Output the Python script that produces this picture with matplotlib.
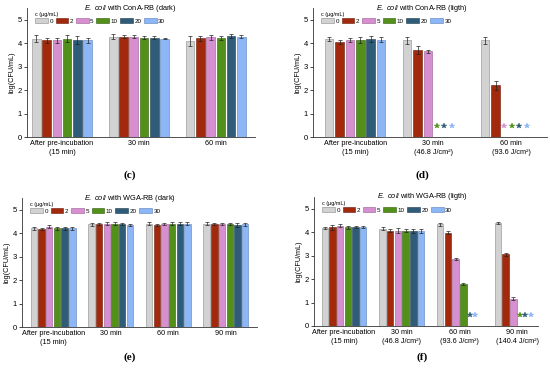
import numpy as np
import matplotlib
matplotlib.use("Agg")
import matplotlib.pyplot as plt
from matplotlib.patches import Patch

plt.rcParams['font.family'] = ['Liberation Sans', 'DejaVu Sans']
plt.rcParams['mathtext.fontset'] = 'custom'
plt.rcParams['mathtext.it'] = 'Liberation Sans:italic'
plt.rcParams['mathtext.rm'] = 'Liberation Sans'

concs = ["0", "2", "5", "10", "20", "30"]
colors = ["#d2d2d2", "#a3290c", "#d690cf", "#52901a", "#2f5c78", "#8cb6f6"]
edges = ["#8a8a8a", "#6a1a08", "#9a5a95", "#2f5a0c", "#1d3a4e", "#5a7fb8"]

# (c) ConA-RB dark
c_groups = ["After pre-incubation\n(15 min)", "30 min", "60 min"]
c_vals = [[4.18, 4.12, 4.12, 4.18, 4.15, 4.12],
          [4.28, 4.28, 4.28, 4.24, 4.24, 4.19],
          [4.10, 4.20, 4.25, 4.22, 4.30, 4.28]]
c_errs = [[0.15, 0.10, 0.10, 0.15, 0.17, 0.10],
          [0.12, 0.08, 0.05, 0.05, 0.05, 0.03],
          [0.22, 0.12, 0.12, 0.10, 0.10, 0.08]]

# (d) ConA-RB light (None = no survivors, marked with star)
d_groups = ["After pre-incubation\n(15 min)", "30 min\n(46.8 J/cm\u00b2)", "60 min\n(93.6 J/cm\u00b2)"]
d_vals = [[4.17, 4.05, 4.12, 4.13, 4.17, 4.15],
          [4.12, 3.70, 3.65, None, None, None],
          [4.12, 2.20, None, None, None, None]]
d_errs = [[0.08, 0.10, 0.08, 0.12, 0.12, 0.12],
          [0.15, 0.18, 0.05, 0, 0, 0],
          [0.15, 0.18, 0, 0, 0, 0]]

# (e) WGA-RB dark
e_groups = ["After pre-incubation\n(15 min)", "30 min", "60 min", "90 min"]
e_vals = [[4.20, 4.18, 4.27, 4.20, 4.20, 4.20],
          [4.38, 4.40, 4.40, 4.40, 4.38, 4.35],
          [4.40, 4.35, 4.38, 4.40, 4.40, 4.40],
          [4.40, 4.38, 4.38, 4.40, 4.35, 4.38]]
e_errs = [[0.08, 0.05, 0.07, 0.07, 0.06, 0.06],
          [0.07, 0.05, 0.06, 0.06, 0.05, 0.06],
          [0.07, 0.05, 0.05, 0.06, 0.06, 0.07],
          [0.07, 0.05, 0.05, 0.05, 0.07, 0.06]]

# (f) WGA-RB light
f_groups = ["After pre-incubation\n(15 min)", "30 min\n(46.8 J/cm\u00b2)",
            "60 min\n(93.6 J/cm\u00b2)", "90 min\n(140.4 J/cm\u00b2)"]
f_vals = [[4.18, 4.20, 4.27, 4.20, 4.22, 4.22],
          [4.15, 4.07, 4.07, 4.07, 4.05, 4.05],
          [4.33, 3.97, 2.85, 1.78, None, None],
          [4.40, 3.05, 1.17, None, None, None]]
f_errs = [[0.05, 0.10, 0.06, 0.06, 0.05, 0.06],
          [0.07, 0.08, 0.10, 0.08, 0.08, 0.08],
          [0.08, 0.06, 0.05, 0.05, 0, 0],
          [0.04, 0.08, 0.08, 0, 0, 0]]

W, H = 550, 373
fig = plt.figure(figsize=(5.5, 3.73), dpi=100)


def px_axes(x0, x1, y0, ytop):
    return fig.add_axes([x0 / W, (H - y0) / H, (x1 - x0) / W, (y0 - ytop) / H])


def panel(ax, groups, vals, errs, xlim, title, tx, ty, lbl, lx, ly):
    n = len(concs)
    slot = 0.8 / n
    bw = slot * 0.84
    for gi, (gv, ge) in enumerate(zip(vals, errs)):
        first_missing = None
        k = 0
        for si in range(n):
            x = gi - 0.4 + slot * (si + 0.5)
            v = gv[si]
            if v is None:
                if first_missing is None:
                    first_missing = x - 0.15 * slot
                xs = first_missing + k * 0.72 * slot
                k += 1
                ax.plot(xs, 0.48, marker='*', color=colors[si], ms=3.8, mec=colors[si], mew=0.3)
                continue
            ax.bar(x, v, width=bw, color=colors[si], edgecolor=edges[si], linewidth=0.4)
            ax.errorbar(x, v, yerr=ge[si], fmt='none', ecolor='#222222', elinewidth=0.5,
                        capsize=1.5, capthick=0.5)
    ax.set_xlim(*xlim)
    ax.set_ylim(0, 5.5)
    ax.set_yticks([0, 1, 2, 3, 4, 5])
    ax.set_xticks(range(len(groups)))
    ax.set_xticklabels(groups, fontsize=5.2, linespacing=1.5)
    ax.tick_params(axis='x', length=0, pad=2)
    ax.tick_params(axis='y', labelsize=5.5, length=2, width=0.5, pad=1.5)
    for s in ['top', 'right']:
        ax.spines[s].set_visible(False)
    for s in ['left', 'bottom']:
        ax.spines[s].set_linewidth(0.6)
        ax.spines[s].set_color('#333333')
    ax.set_ylabel("log(CFU/mL)", fontsize=5.2, labelpad=2)
    handles = [Patch(facecolor=colors[i], edgecolor=edges[i], linewidth=0.4) for i in range(n)]
    ax.legend(handles, concs, ncol=6, title="c (\u03bcg/mL)", loc='upper left',
              bbox_to_anchor=(0.02, 1.0), frameon=False, fontsize=4.5,
              title_fontsize=4.0, handlelength=2.0, handleheight=0.8,
              handletextpad=0.25, columnspacing=0.45, borderpad=0.1,
              labelspacing=0.2, alignment='left')
    fig.text(tx / W, 1 - ty / H, r"$\it{E.\ coli}$ with " + title, fontsize=5.3,
             ha='center', va='center')
    fig.text(lx / W, 1 - ly / H, lbl, fontsize=8, fontweight='bold',
             family='Liberation Serif', ha='center', va='center')


ax_c = px_axes(27, 255, 137, 8)
panel(ax_c, c_groups, c_vals, c_errs, (-0.455, 2.51), "ConA-RB (dark)", 130, 8, "(c)", 130, 175)

ax_d = px_axes(313, 547, 137, 8)
panel(ax_d, d_groups, d_vals, d_errs, (-0.54, 2.46), "ConA-RB (ligth)", 422, 8, "(d)", 422, 175)

ax_e = px_axes(22, 257, 327, 198)
panel(ax_e, e_groups, e_vals, e_errs, (-0.54, 3.54), "WGA-RB (dark)", 130, 198, "(e)", 130, 357)

ax_f = px_axes(314, 538, 326, 197)
panel(ax_f, f_groups, f_vals, f_errs, (-0.52, 3.36), "WGA-RB (ligth)", 422, 197, "(f)", 422, 357)

fig.savefig("out.png", dpi=100)
